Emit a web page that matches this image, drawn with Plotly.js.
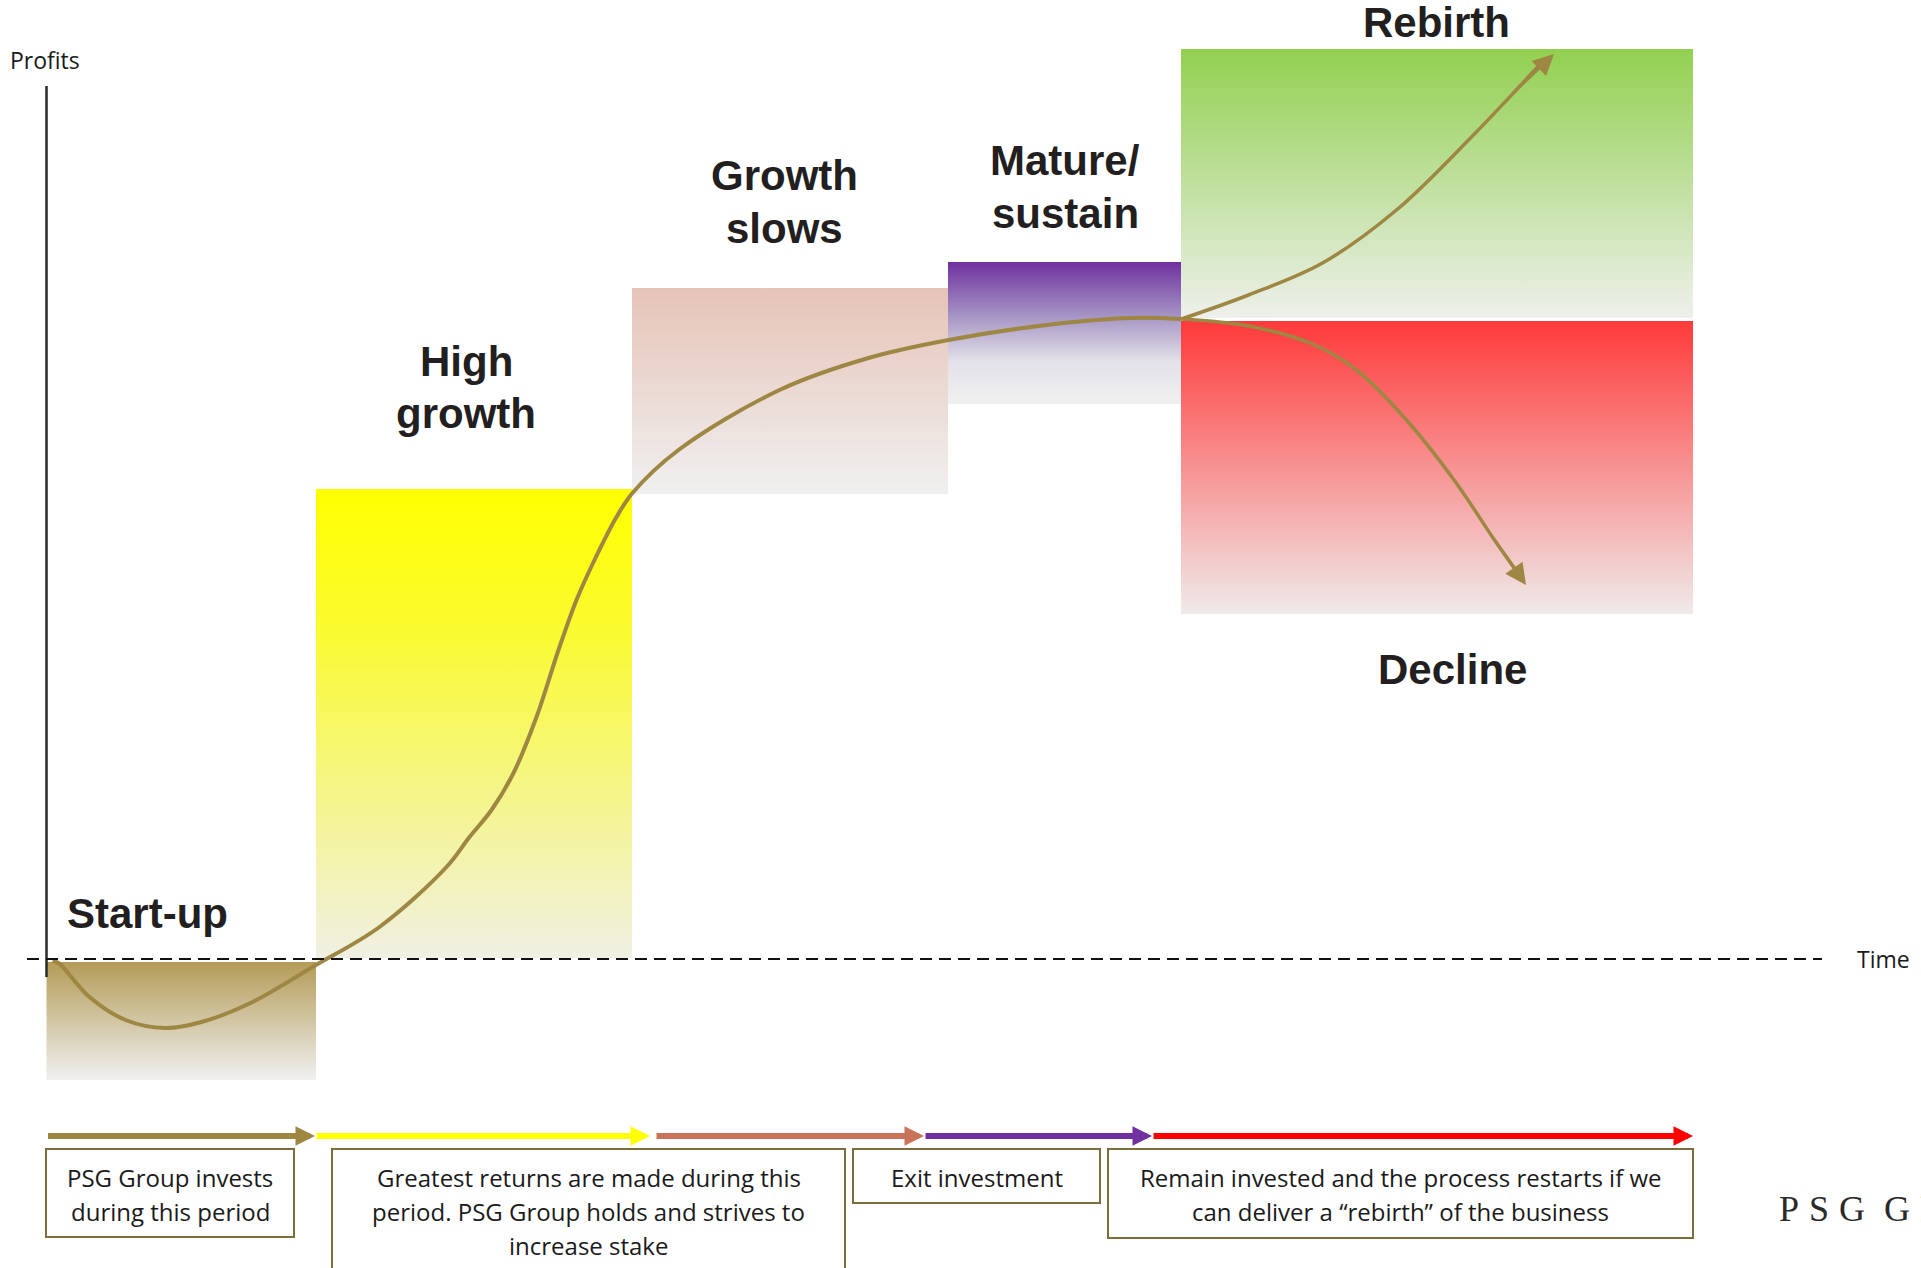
<!DOCTYPE html>
<html><head><meta charset="utf-8">
<script src="https://cdn.plot.ly/plotly-3.0.1.min.js"></script>
<style>html,body{margin:0;padding:0;background:#fff;overflow:hidden}</style>
</head><body><div id="chart" style="width:1921px;height:1268px"></div>
<script>
// ---------- DATA ----------
// Lifecycle stages (time on x, profit on y; 0 = break-even dashed line)
const stageNames      = ['Start-up', 'High growth', 'Growth slows', 'Mature/ sustain', 'Rebirth', 'Decline'];
const stageTimeStart  = [0, 26.95, 58.55, 90.15, 113.45, 113.45];
const stageTimeEnd    = [26.95, 58.55, 90.15, 113.45, 164.65, 164.65];
const stageProfitLow  = [-12.1, 0.1, 46.5, 55.5, 64.1, 34.5];
const stageProfitHigh = [-0.3, 47.0, 67.1, 69.7, 91.0, 63.8];

// Profit curve of the business
const curveTime   = [0.6, 1.2, 4.3, 7.9, 11.9, 15.5, 20.4, 26.6, 33.3, 40.0, 42.3, 44.5, 46.7, 49.0, 51.2, 53.0, 54.8, 57.0, 58.6, 63.2, 73.3, 82.2, 90.2, 100.0, 108.5, 113.5];
const curveProfit = [-0.2, -0.4, -3.8, -6.1, -6.9, -6.3, -4.4, -0.8, 3.2, 9.2, 12.2, 14.9, 18.6, 24.2, 30.9, 35.9, 39.9, 44.2, 46.6, 50.9, 56.9, 60.1, 61.9, 63.4, 64.1, 64.0];
const rebirthTime   = [113.5, 120.2, 127.6, 135.0, 142.4, 149.2];
const rebirthProfit = [64.0, 66.4, 69.6, 74.9, 82.1, 89.3];
const rebirthTip    = [150.75, 90.5];
const declineTime   = [113.5, 120.2, 126.6, 131.0, 136.0, 140.9, 144.8, 147.0];
const declineProfit = [64.0, 63.3, 61.5, 58.9, 53.9, 47.7, 41.9, 38.8];
const declineTip    = [147.95, 37.4];

// Investment phases (bottom arrows and explanation boxes)
const phaseArrowStart = [0, 26.85, 60.85, 87.75, 110.55];
const phaseArrowEnd   = [26.85, 60.35, 87.75, 110.55, 164.65];
const phaseTexts = [
  ['PSG Group invests', 'during this period'],
  ['Greatest returns are made during this', 'period. PSG Group holds and strives to', 'increase stake'],
  ['Exit investment'],
  ['Remain invested and the process restarts if we', 'can deliver a \u201crebirth\u201d of the business']
];
const phaseBoxStart  = [-0.05, 28.55, 80.65, 106.15];
const phaseBoxEnd    = [24.75, 79.85, 105.35, 164.65];
const phaseBoxTop    = [-19.0, -19.0, -19.0, -19.0];
const phaseBoxBottom = [-27.8, -34.0, -24.4, -27.9];

const axisLabels = ['Profits', 'Time'];
const brandText = 'PSG GROUP';

// ---------- STYLES ----------
const stageScales = [
  [[0, '#f0f0f0'], [1, '#b49b57']],
  [[0, '#f0f0e4'], [0.7, '#fafa30'], [1, '#ffff00']],
  [[0, '#f0f0f0'], [1, '#e6c3b7']],
  [[0, '#f0f0f0'], [0.3, '#e3e1e9'], [0.62, '#a594c4'], [1, '#7030a0']],
  [[0, '#eef0ec'], [1, '#92d050']],
  [[0, '#f0eaea'], [1, '#ff3a3a']]
];
const curveColor = '#9e8643';
const phaseColors = ['#9e8643', '#ffff00', '#c8735a', '#7030a0', '#ff0000'];
const boldFont = {family: 'Liberation Sans, Arial, sans-serif', size: 42, color: '#231f20', weight: 'bold'};
const bodyFont = {family: 'Open Sans, sans-serif', size: 24, color: '#1a1a1a'};
const smallFont = {family: 'Open Sans, sans-serif', size: 23, color: '#1a1a1a'};

// ---------- TRACES ----------
const traces = [];
for (let i = 0; i < stageNames.length; i++) {
  const x0 = stageTimeStart[i], x1 = stageTimeEnd[i], y0 = stageProfitLow[i], y1 = stageProfitHigh[i];
  traces.push({
    type: 'scatter', mode: 'none', name: stageNames[i],
    x: [x0, x1, x1, x0, x0], y: [y0, y0, y1, y1, y0],
    fill: 'toself', fillgradient: {type: 'vertical', colorscale: stageScales[i]},
    hoverinfo: 'skip'
  });
}
traces.push({type: 'scatter', mode: 'lines', x: curveTime, y: curveProfit,
  line: {color: curveColor, width: 4, shape: 'spline', smoothing: 1}, hoverinfo: 'skip'});
traces.push({type: 'scatter', mode: 'lines', x: rebirthTime, y: rebirthProfit,
  line: {color: curveColor, width: 3.5, shape: 'spline', smoothing: 1}, hoverinfo: 'skip'});
traces.push({type: 'scatter', mode: 'lines', x: declineTime, y: declineProfit,
  line: {color: curveColor, width: 3.5, shape: 'spline', smoothing: 1}, hoverinfo: 'skip'});

// ---------- SHAPES ----------
const shapes = [
  {type: 'line', xref: 'x', yref: 'y', x0: 0, x1: 0, y0: -1.8, y1: 87.3, line: {color: '#2a2a2a', width: 2.5}},
  {type: 'line', xref: 'x', yref: 'y', x0: -1.95, x1: 177.55, y0: 0, y1: 0, line: {color: '#111', width: 2, dash: '12px,7px'}}
];
for (let i = 0; i < phaseTexts.length; i++) {
  shapes.push({type: 'rect', xref: 'x', yref: 'y', x0: phaseBoxStart[i], x1: phaseBoxEnd[i],
    y0: phaseBoxBottom[i], y1: phaseBoxTop[i], line: {color: '#7d6c3c', width: 2}, fillcolor: 'rgba(0,0,0,0)'});
}

// ---------- ANNOTATIONS ----------
const annotations = [];
function addLines(lines, x, yFirst, step, font, xanchor) {
  lines.forEach((t, k) => annotations.push({xref: 'x', yref: 'y', x: x, y: yFirst - k * step, text: t,
    showarrow: false, font: font, xanchor: xanchor || 'center', yanchor: 'middle'}));
}
addLines([stageNames[0]], 1.85, 4.6, 0, boldFont, 'left');
addLines(['High', 'growth'], 41.95, 59.8, 5.2, boldFont);
addLines(['Growth', 'slows'], 73.75, 78.4, 5.3, boldFont);
addLines(['Mature/', 'sustain'], 101.85, 79.9, 5.3, boldFont);
addLines([stageNames[4]], 138.95, 93.7, 0, boldFont);
addLines([stageNames[5]], 140.55, 29.0, 0, boldFont);
addLines([axisLabels[0]], -3.85, 89.9, 0, smallFont, 'left');
addLines([axisLabels[1]], 180.85, 0, 0, smallFont, 'left');
for (let i = 0; i < phaseTexts.length; i++) {
  addLines(phaseTexts[i], (phaseBoxStart[i] + phaseBoxEnd[i]) / 2, -21.8, 3.4, bodyFont);
}
annotations.push({xref: 'x', yref: 'y', x: 177.0, y: -25.0, text: brandText, showarrow: false,
  xanchor: 'left', yanchor: 'middle', font: {family: 'Liberation Serif, serif', size: 36, color: '#2a2a2a'}});

// phase arrows
for (let i = 0; i < phaseColors.length; i++) {
  annotations.push({xref: 'x', yref: 'y', axref: 'x', ayref: 'y', x: phaseArrowEnd[i], y: -17.7,
    ax: phaseArrowStart[i], ay: -17.7, text: '', showarrow: true, arrowhead: 2, arrowsize: 0.65,
    arrowwidth: 6, arrowcolor: phaseColors[i], standoff: 0});
}
// curve arrow heads
const lastR = rebirthTime.length - 1, lastD = declineTime.length - 1;
annotations.push({xref: 'x', yref: 'y', axref: 'x', ayref: 'y', x: rebirthTip[0], y: rebirthTip[1],
  ax: rebirthTime[lastR - 1] + 0.6 * (rebirthTime[lastR] - rebirthTime[lastR - 1]),
  ay: rebirthProfit[lastR - 1] + 0.6 * (rebirthProfit[lastR] - rebirthProfit[lastR - 1]),
  text: '', showarrow: true, arrowhead: 2, arrowsize: 1.4, arrowwidth: 3, arrowcolor: curveColor, standoff: 0});
annotations.push({xref: 'x', yref: 'y', axref: 'x', ayref: 'y', x: declineTip[0], y: declineTip[1],
  ax: declineTime[lastD - 1], ay: declineProfit[lastD - 1],
  text: '', showarrow: true, arrowhead: 2, arrowsize: 1.4, arrowwidth: 3, arrowcolor: curveColor, standoff: 0});

const layout = {
  width: 1921, height: 1268, margin: {l: 0, r: 0, t: 0, b: 0, pad: 0},
  paper_bgcolor: '#ffffff', plot_bgcolor: '#ffffff', showlegend: false, hovermode: false,
  xaxis: {range: [-4.65, 187.45], visible: false, fixedrange: true},
  yaxis: {range: [-30.9, 95.9], visible: false, fixedrange: true},
  shapes: shapes, annotations: annotations
};

Plotly.newPlot('chart', traces, layout, {displayModeBar: false, staticPlot: true}).then(() => {
  const ns = 'http://www.w3.org/2000/svg';
  document.querySelectorAll('text.annotation-text').forEach(el => {
    if (el.textContent === brandText) {
      const words = brandText.split(' ');
      el.textContent = '';
      el.setAttribute('letter-spacing', '10px');
      words.forEach((w, i) => {
        if (i > 0) {
          const sp = document.createElementNS(ns, 'tspan');
          sp.setAttribute('letter-spacing', '0px');
          sp.textContent = ' ';
          el.appendChild(sp);
        }
        const t = document.createElementNS(ns, 'tspan');
        t.setAttribute('letter-spacing', '10px');
        t.textContent = w;
        el.appendChild(t);
      });
    }
  });
});
</script></body></html>
